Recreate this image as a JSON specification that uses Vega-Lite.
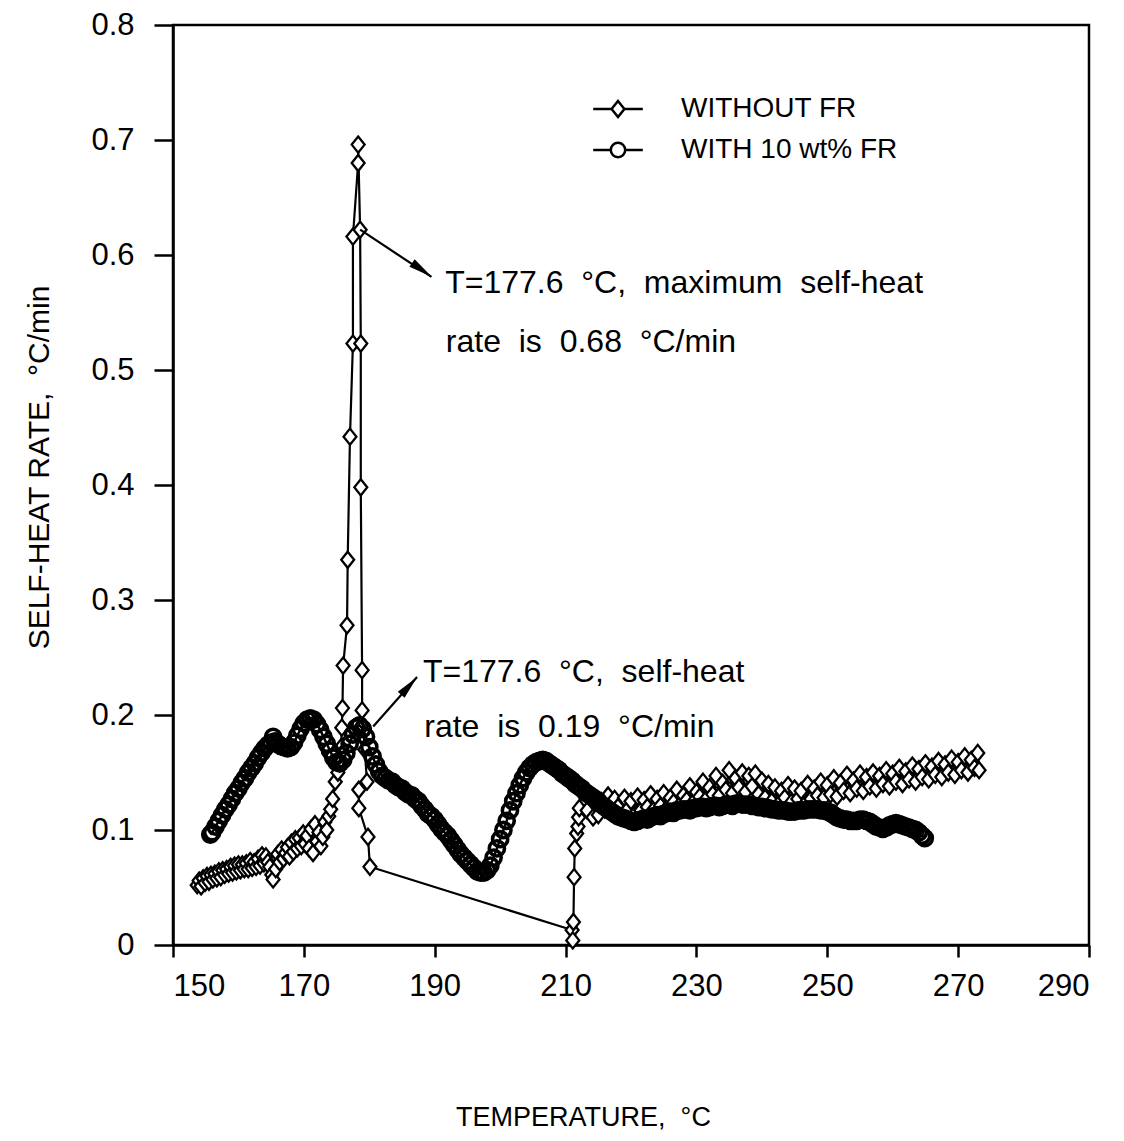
{
  "$schema": "https://vega.github.io/schema/vega-lite/v6.json",
  "width": 916,
  "height": 920,
  "autosize": {"type": "none"},
  "padding": {"left": 173, "top": 25, "right": 35, "bottom": 196},
  "background": "white",
  "config": {
    "font": "Liberation Sans, Arial, sans-serif",
    "view": {"stroke": "black", "strokeWidth": 2.5},
    "axis": {"grid": false, "domainColor": "black", "domainWidth": 2.5, "tickColor": "black", "tickWidth": 2.5, "labelColor": "black", "titleColor": "black", "labelFontSize": 31, "titleFontSize": 30, "titleFontWeight": "normal"}
  },
  "datasets": {
    "nofr": [
      {"T":153.7,"rate":0.052},{"T":154.0,"rate":0.056},{"T":154.3,"rate":0.051},{"T":154.6,"rate":0.058},{"T":154.9,"rate":0.054},
      {"T":155.2,"rate":0.060},{"T":155.5,"rate":0.055},{"T":155.8,"rate":0.061},{"T":156.1,"rate":0.057},{"T":156.4,"rate":0.062},
      {"T":156.7,"rate":0.058},{"T":157.0,"rate":0.064},{"T":157.3,"rate":0.059},{"T":157.6,"rate":0.065},{"T":157.9,"rate":0.061},
      {"T":158.2,"rate":0.066},{"T":158.5,"rate":0.062},{"T":158.8,"rate":0.068},{"T":159.1,"rate":0.063},{"T":159.4,"rate":0.069},
      {"T":159.7,"rate":0.064},{"T":160.0,"rate":0.070},{"T":160.3,"rate":0.065},{"T":160.6,"rate":0.070},{"T":160.9,"rate":0.066},
      {"T":161.2,"rate":0.071},{"T":161.5,"rate":0.066},{"T":161.8,"rate":0.073},{"T":162.1,"rate":0.067},{"T":162.4,"rate":0.072},
      {"T":162.7,"rate":0.068},{"T":163.0,"rate":0.075},{"T":163.3,"rate":0.069},{"T":163.6,"rate":0.078},{"T":163.9,"rate":0.071},
      {"T":164.2,"rate":0.077},{"T":164.5,"rate":0.072},{"T":164.8,"rate":0.068},{"T":165.1,"rate":0.061},{"T":165.3,"rate":0.057},
      {"T":165.7,"rate":0.066},{"T":166.0,"rate":0.079},{"T":166.3,"rate":0.072},{"T":166.6,"rate":0.083},{"T":166.9,"rate":0.075},
      {"T":167.2,"rate":0.080},{"T":167.5,"rate":0.085},{"T":167.8,"rate":0.077},{"T":168.1,"rate":0.089},{"T":168.4,"rate":0.081},
      {"T":168.7,"rate":0.092},{"T":169.0,"rate":0.084},{"T":169.3,"rate":0.093},{"T":169.6,"rate":0.086},{"T":169.9,"rate":0.097},
      {"T":170.2,"rate":0.088},{"T":170.5,"rate":0.095},{"T":170.8,"rate":0.084},{"T":171.1,"rate":0.101},{"T":171.4,"rate":0.080},
      {"T":171.7,"rate":0.105},{"T":172.0,"rate":0.090},{"T":172.3,"rate":0.098},{"T":172.6,"rate":0.086},{"T":172.9,"rate":0.094},
      {"T":173.2,"rate":0.107},{"T":173.5,"rate":0.100},{"T":173.8,"rate":0.112},{"T":174.1,"rate":0.118},{"T":174.4,"rate":0.127},
      {"T":174.8,"rate":0.142},{"T":175.2,"rate":0.150},{"T":175.5,"rate":0.158},{"T":175.7,"rate":0.172},{"T":175.8,"rate":0.189},
      {"T":175.9,"rate":0.206},{"T":176.0,"rate":0.243},{"T":176.6,"rate":0.278},{"T":176.7,"rate":0.335},{"T":177.05,"rate":0.442},
      {"T":177.5,"rate":0.523},{"T":177.5,"rate":0.616},{"T":178.3,"rate":0.68},{"T":178.3,"rate":0.696},{"T":178.6,"rate":0.622},
      {"T":178.7,"rate":0.523},{"T":178.7,"rate":0.398},{"T":178.9,"rate":0.239},{"T":178.9,"rate":0.204},{"T":179.3,"rate":0.17},
      {"T":179.65,"rate":0.142},{"T":178.4,"rate":0.135},{"T":178.4,"rate":0.119},{"T":179.8,"rate":0.094},{"T":180.1,"rate":0.068},
      {"T":211.0,"rate":0.013},{"T":211.1,"rate":0.004},{"T":211.2,"rate":0.02},{"T":211.3,"rate":0.059},{"T":211.4,"rate":0.084},
      {"T":211.7,"rate":0.097},{"T":211.9,"rate":0.103},{"T":212.0,"rate":0.111},{"T":212.1,"rate":0.119},{"T":213.3,"rate":0.117},
      {"T":214.2,"rate":0.111},{"T":215.0,"rate":0.113},{"T":215.5,"rate":0.125},{"T":216.0,"rate":0.118},{"T":216.5,"rate":0.130},
      {"T":217.0,"rate":0.115},{"T":217.5,"rate":0.127},{"T":218.0,"rate":0.120},{"T":218.5,"rate":0.112},{"T":219.0,"rate":0.128},
      {"T":219.5,"rate":0.118},{"T":220.0,"rate":0.125},{"T":220.5,"rate":0.113},{"T":221.0,"rate":0.129},{"T":221.5,"rate":0.117},
      {"T":222.0,"rate":0.126},{"T":222.5,"rate":0.120},{"T":223.0,"rate":0.131},{"T":223.5,"rate":0.118},{"T":224.0,"rate":0.127},
      {"T":224.5,"rate":0.121},{"T":225.0,"rate":0.132},{"T":225.5,"rate":0.119},{"T":226.0,"rate":0.128},{"T":226.5,"rate":0.124},
      {"T":227.0,"rate":0.135},{"T":227.5,"rate":0.122},{"T":228.0,"rate":0.130},{"T":228.5,"rate":0.126},{"T":229.0,"rate":0.138},
      {"T":229.5,"rate":0.124},{"T":230.0,"rate":0.133},{"T":230.5,"rate":0.129},{"T":231.0,"rate":0.142},{"T":231.5,"rate":0.127},
      {"T":232.0,"rate":0.137},{"T":232.5,"rate":0.131},{"T":233.0,"rate":0.147},{"T":233.5,"rate":0.130},{"T":234.0,"rate":0.141},
      {"T":234.5,"rate":0.135},{"T":235.0,"rate":0.152},{"T":235.5,"rate":0.132},{"T":236.0,"rate":0.145},{"T":236.5,"rate":0.137},
      {"T":237.0,"rate":0.150},{"T":237.5,"rate":0.133},{"T":238.0,"rate":0.147},{"T":238.5,"rate":0.138},{"T":239.0,"rate":0.149},
      {"T":239.5,"rate":0.131},{"T":240.0,"rate":0.143},{"T":240.5,"rate":0.128},{"T":241.0,"rate":0.140},{"T":241.5,"rate":0.125},
      {"T":242.0,"rate":0.137},{"T":242.5,"rate":0.122},{"T":243.0,"rate":0.134},{"T":243.5,"rate":0.128},{"T":244.0,"rate":0.139},
      {"T":244.5,"rate":0.124},{"T":245.0,"rate":0.136},{"T":245.5,"rate":0.127},{"T":246.0,"rate":0.134},{"T":246.5,"rate":0.122},
      {"T":247.0,"rate":0.140},{"T":247.5,"rate":0.127},{"T":248.0,"rate":0.136},{"T":248.5,"rate":0.130},{"T":249.0,"rate":0.142},
      {"T":249.5,"rate":0.128},{"T":250.0,"rate":0.139},{"T":250.5,"rate":0.131},{"T":251.0,"rate":0.145},{"T":251.5,"rate":0.129},
      {"T":252.0,"rate":0.141},{"T":252.5,"rate":0.134},{"T":253.0,"rate":0.148},{"T":253.5,"rate":0.132},{"T":254.0,"rate":0.143},
      {"T":254.5,"rate":0.136},{"T":255.0,"rate":0.149},{"T":255.5,"rate":0.134},{"T":256.0,"rate":0.146},{"T":256.5,"rate":0.138},
      {"T":257.0,"rate":0.150},{"T":257.5,"rate":0.136},{"T":258.0,"rate":0.147},{"T":258.5,"rate":0.140},{"T":259.0,"rate":0.152},
      {"T":259.5,"rate":0.138},{"T":260.0,"rate":0.149},{"T":260.5,"rate":0.142},{"T":261.0,"rate":0.154},{"T":261.5,"rate":0.140},
      {"T":262.0,"rate":0.151},{"T":262.5,"rate":0.144},{"T":263.0,"rate":0.156},{"T":263.5,"rate":0.142},{"T":264.0,"rate":0.153},
      {"T":264.5,"rate":0.146},{"T":265.0,"rate":0.158},{"T":265.5,"rate":0.144},{"T":266.0,"rate":0.155},{"T":266.5,"rate":0.148},
      {"T":267.0,"rate":0.160},{"T":267.5,"rate":0.146},{"T":268.0,"rate":0.157},{"T":268.5,"rate":0.150},{"T":269.0,"rate":0.162},
      {"T":269.5,"rate":0.148},{"T":270.0,"rate":0.159},{"T":270.5,"rate":0.152},{"T":271.0,"rate":0.164},{"T":271.5,"rate":0.150},
      {"T":272.0,"rate":0.161},{"T":272.5,"rate":0.154},{"T":273.0,"rate":0.167},{"T":273.2,"rate":0.152}
    ],
    "fr": [
      {"T":155.7,"rate":0.096},{"T":156.0,"rate":0.098},{"T":156.5,"rate":0.103},{"T":157.0,"rate":0.108},{"T":157.5,"rate":0.113},
      {"T":158.0,"rate":0.118},{"T":158.5,"rate":0.122},{"T":159.0,"rate":0.127},{"T":159.5,"rate":0.132},{"T":160.0,"rate":0.136},
      {"T":160.5,"rate":0.141},{"T":161.0,"rate":0.145},{"T":161.5,"rate":0.150},{"T":162.0,"rate":0.154},{"T":162.5,"rate":0.158},
      {"T":163.0,"rate":0.163},{"T":163.5,"rate":0.167},{"T":164.0,"rate":0.171},{"T":164.5,"rate":0.174},{"T":165.0,"rate":0.176},
      {"T":165.3,"rate":0.181},{"T":165.6,"rate":0.177},{"T":166.0,"rate":0.175},{"T":166.5,"rate":0.173},{"T":167.0,"rate":0.172},
      {"T":167.5,"rate":0.171},{"T":168.0,"rate":0.172},{"T":168.5,"rate":0.176},{"T":169.0,"rate":0.182},{"T":169.5,"rate":0.188},
      {"T":170.0,"rate":0.193},{"T":170.5,"rate":0.196},{"T":171.0,"rate":0.197},{"T":171.5,"rate":0.196},{"T":172.0,"rate":0.192},
      {"T":172.5,"rate":0.187},{"T":173.0,"rate":0.181},{"T":173.5,"rate":0.175},{"T":174.0,"rate":0.169},{"T":174.5,"rate":0.163},
      {"T":175.0,"rate":0.159},{"T":175.5,"rate":0.158},{"T":176.0,"rate":0.161},{"T":176.5,"rate":0.167},{"T":177.0,"rate":0.175},
      {"T":177.5,"rate":0.183},{"T":178.0,"rate":0.189},{"T":178.5,"rate":0.191},{"T":179.0,"rate":0.188},{"T":179.5,"rate":0.181},
      {"T":180.0,"rate":0.172},{"T":180.5,"rate":0.164},{"T":181.0,"rate":0.157},{"T":181.5,"rate":0.151},{"T":182.0,"rate":0.147},
      {"T":182.5,"rate":0.145},{"T":183.0,"rate":0.143},{"T":183.5,"rate":0.142},{"T":184.0,"rate":0.139},{"T":184.5,"rate":0.137},
      {"T":185.0,"rate":0.136},{"T":185.5,"rate":0.133},{"T":186.0,"rate":0.131},{"T":186.5,"rate":0.130},{"T":187.0,"rate":0.127},
      {"T":187.5,"rate":0.125},{"T":188.0,"rate":0.121},{"T":188.5,"rate":0.118},{"T":189.0,"rate":0.114},{"T":189.5,"rate":0.112},
      {"T":190.0,"rate":0.109},{"T":190.5,"rate":0.105},{"T":191.0,"rate":0.101},{"T":191.5,"rate":0.098},{"T":192.0,"rate":0.095},
      {"T":192.5,"rate":0.091},{"T":193.0,"rate":0.087},{"T":193.5,"rate":0.083},{"T":194.0,"rate":0.079},{"T":194.5,"rate":0.076},
      {"T":195.0,"rate":0.073},{"T":195.5,"rate":0.070},{"T":196.0,"rate":0.067},{"T":196.5,"rate":0.064},{"T":197.0,"rate":0.063},
      {"T":197.5,"rate":0.063},{"T":198.0,"rate":0.065},{"T":198.5,"rate":0.069},{"T":199.0,"rate":0.076},{"T":199.5,"rate":0.084},
      {"T":200.0,"rate":0.092},{"T":200.5,"rate":0.100},{"T":201.0,"rate":0.108},{"T":201.5,"rate":0.117},{"T":202.0,"rate":0.125},
      {"T":202.5,"rate":0.132},{"T":203.0,"rate":0.139},{"T":203.5,"rate":0.145},{"T":204.0,"rate":0.150},{"T":204.5,"rate":0.154},
      {"T":205.0,"rate":0.157},{"T":205.5,"rate":0.159},{"T":206.0,"rate":0.160},{"T":206.5,"rate":0.161},{"T":207.0,"rate":0.160},
      {"T":207.5,"rate":0.158},{"T":208.0,"rate":0.156},{"T":208.5,"rate":0.154},{"T":209.0,"rate":0.152},{"T":209.5,"rate":0.149},
      {"T":210.0,"rate":0.147},{"T":210.5,"rate":0.145},{"T":211.0,"rate":0.143},{"T":211.5,"rate":0.140},{"T":212.0,"rate":0.138},
      {"T":212.5,"rate":0.136},{"T":213.0,"rate":0.133},{"T":213.5,"rate":0.131},{"T":214.0,"rate":0.129},{"T":214.5,"rate":0.127},
      {"T":215.0,"rate":0.125},{"T":215.5,"rate":0.122},{"T":216.0,"rate":0.120},{"T":216.5,"rate":0.118},{"T":217.0,"rate":0.116},
      {"T":217.5,"rate":0.114},{"T":218.0,"rate":0.112},{"T":218.5,"rate":0.111},{"T":219.0,"rate":0.110},{"T":219.5,"rate":0.109},
      {"T":220.0,"rate":0.108},{"T":220.5,"rate":0.107},{"T":221.0,"rate":0.108},{"T":221.5,"rate":0.109},{"T":222.0,"rate":0.110},
      {"T":222.5,"rate":0.109},{"T":223.0,"rate":0.111},{"T":223.5,"rate":0.112},{"T":224.0,"rate":0.113},{"T":224.5,"rate":0.112},
      {"T":225.0,"rate":0.114},{"T":225.5,"rate":0.115},{"T":226.0,"rate":0.116},{"T":226.5,"rate":0.115},{"T":227.0,"rate":0.117},
      {"T":227.5,"rate":0.117},{"T":228.0,"rate":0.118},{"T":228.5,"rate":0.118},{"T":229.0,"rate":0.117},{"T":229.5,"rate":0.119},
      {"T":230.0,"rate":0.119},{"T":230.5,"rate":0.120},{"T":231.0,"rate":0.120},{"T":231.5,"rate":0.119},{"T":232.0,"rate":0.120},
      {"T":232.5,"rate":0.121},{"T":233.0,"rate":0.121},{"T":233.5,"rate":0.120},{"T":234.0,"rate":0.121},{"T":234.5,"rate":0.122},
      {"T":235.0,"rate":0.122},{"T":235.5,"rate":0.121},{"T":236.0,"rate":0.123},{"T":236.5,"rate":0.123},{"T":237.0,"rate":0.122},
      {"T":237.5,"rate":0.122},{"T":238.0,"rate":0.122},{"T":238.5,"rate":0.121},{"T":239.0,"rate":0.121},{"T":239.5,"rate":0.120},
      {"T":240.0,"rate":0.120},{"T":240.5,"rate":0.119},{"T":241.0,"rate":0.119},{"T":241.5,"rate":0.118},{"T":242.0,"rate":0.118},
      {"T":242.5,"rate":0.117},{"T":243.0,"rate":0.117},{"T":243.5,"rate":0.117},{"T":244.0,"rate":0.116},{"T":244.5,"rate":0.116},
      {"T":245.0,"rate":0.116},{"T":245.5,"rate":0.117},{"T":246.0,"rate":0.117},{"T":246.5,"rate":0.117},{"T":247.0,"rate":0.118},
      {"T":247.5,"rate":0.118},{"T":248.0,"rate":0.118},{"T":248.5,"rate":0.118},{"T":249.0,"rate":0.117},{"T":249.5,"rate":0.117},
      {"T":250.0,"rate":0.116},{"T":250.5,"rate":0.115},{"T":251.0,"rate":0.113},{"T":251.5,"rate":0.111},{"T":252.0,"rate":0.110},
      {"T":252.5,"rate":0.109},{"T":253.0,"rate":0.109},{"T":253.5,"rate":0.108},{"T":254.0,"rate":0.108},{"T":254.5,"rate":0.108},
      {"T":255.0,"rate":0.109},{"T":255.5,"rate":0.109},{"T":256.0,"rate":0.108},{"T":256.5,"rate":0.107},{"T":257.0,"rate":0.105},
      {"T":257.5,"rate":0.103},{"T":258.0,"rate":0.102},{"T":258.5,"rate":0.101},{"T":259.0,"rate":0.102},{"T":259.5,"rate":0.104},
      {"T":260.0,"rate":0.105},{"T":260.5,"rate":0.106},{"T":261.0,"rate":0.105},{"T":261.5,"rate":0.104},{"T":262.0,"rate":0.103},
      {"T":262.5,"rate":0.102},{"T":263.0,"rate":0.101},{"T":263.5,"rate":0.100},{"T":264.0,"rate":0.098},{"T":264.5,"rate":0.095},
      {"T":264.9,"rate":0.093}
    ],
    "arrows": [
      {"T":178.6,"rate":0.622,"T2":189.5,"rate2":0.581},
      {"T":180.6,"rate":0.190,"T2":187.3,"rate2":0.233}
    ],
    "notes": [
      {"T":191.6,"rate":0.567,"label":"T=177.6\u00a0 °C,\u00a0 maximum\u00a0 self-heat"},
      {"T":191.7,"rate":0.516,"label":"rate\u00a0 is\u00a0 0.68\u00a0 °C/min"},
      {"T":188.2,"rate":0.229,"label":"T=177.6\u00a0 °C,\u00a0 self-heat"},
      {"T":188.4,"rate":0.181,"label":"rate\u00a0 is\u00a0 0.19\u00a0 °C/min"}
    ]
  },
  "encoding": {
    "x": {"field": "T", "type": "quantitative", "scale": {"domain": [150, 290], "nice": false, "zero": false},
      "axis": {"values": [150,170,190,210,230,250,270,290], "tickSize": 12, "labelPadding": 14, "title": "TEMPERATURE,\u00a0 °C", "titleFontSize": 27, "titleX": 410, "titleY": 180, "titleAlign": "center", "titleBaseline": "alphabetic", "titleAnchor": null}},
    "y": {"field": "rate", "type": "quantitative", "scale": {"domain": [0, 0.8], "nice": false},
      "axis": {"values": [0,0.1,0.2,0.3,0.4,0.5,0.6,0.7,0.8], "tickSize": 19, "labelPadding": 20, "labelExpr": "datum.value == 0 ? '0' : format(datum.value, '.1f')", "title": "SELF-HEAT RATE,\u00a0 °C/min", "titleX": -134, "titleY": 442, "titleAngle": -90, "titleAlign": "center", "titleBaseline": "middle"}}
  },
  "layer": [
    {"data": {"name": "nofr"}, "transform": [{"window": [{"op": "row_number", "as": "i"}]}],
     "mark": {"type": "line", "color": "black", "strokeWidth": 2.2},
     "encoding": {"order": {"field": "i", "type": "quantitative"}}},
    {"data": {"name": "nofr"},
     "mark": {"type": "point", "shape": "M0,-1L0.8,0L0,1L-0.8,0Z", "size": 260, "filled": true, "fill": "white", "stroke": "black", "strokeWidth": 2.3, "opacity": 1}},
    {"data": {"name": "fr"},
     "mark": {"type": "line", "color": "black", "strokeWidth": 2.5}},
    {"data": {"name": "fr"},
     "mark": {"type": "point", "shape": "circle", "size": 230, "filled": false, "stroke": "black", "strokeWidth": 3.6, "opacity": 1}},
    {"data": {"name": "arrows"},
     "mark": {"type": "rule", "color": "black", "strokeWidth": 2.2},
     "encoding": {"x2": {"field": "T2"}, "y2": {"field": "rate2"}}},
    {"data": {"values": [{"T": 188.04, "rate": 0.587}]},
     "mark": {"type": "point", "shape": "M1,0L-1,-0.38L-1,0.38Z", "size": 576, "filled": true, "color": "black", "opacity": 1, "angle": 35}},
    {"data": {"values": [{"T": 186.1, "rate": 0.2253}]},
     "mark": {"type": "point", "shape": "M1,0L-1,-0.38L-1,0.38Z", "size": 576, "filled": true, "color": "black", "opacity": 1, "angle": -48}},
    {"data": {"name": "notes"},
     "mark": {"type": "text", "align": "left", "baseline": "alphabetic", "fontSize": 32, "color": "black"},
     "encoding": {"text": {"field": "label"}}},
    {"data": {"values": [{"s": "WITHOUT FR"}, {"s": "WITH 10 wt% FR"}]},
     "transform": [{"filter": "false"}],
     "mark": {"type": "point", "filled": false, "color": "black", "strokeWidth": 2.5, "size": 256, "opacity": 1},
     "encoding": {
       "x": null, "y": null,
       "shape": {"field": "s", "type": "nominal",
         "scale": {"domain": ["WITHOUT FR", "WITH 10 wt% FR"],
           "range": ["M-3.1,0L-0.8,0M0.8,0L3.1,0M0,-1L0.8,0L0,1L-0.8,0Z", "M-3.1,0L-0.9,0M0.9,0L3.1,0M0.9,0A0.9,0.9,0,1,1,-0.9,0A0.9,0.9,0,1,1,0.9,0Z"]},
         "legend": {"title": null, "orient": "none", "legendX": 431, "legendY": 70, "symbolSize": 256, "symbolStrokeWidth": 2.5,
           "symbolStrokeColor": "black", "symbolOpacity": 1,
           "labelFontSize": 28, "labelColor": "black", "labelOffset": 49, "labelLimit": 0, "rowPadding": 13}}
     }}
  ]
}
